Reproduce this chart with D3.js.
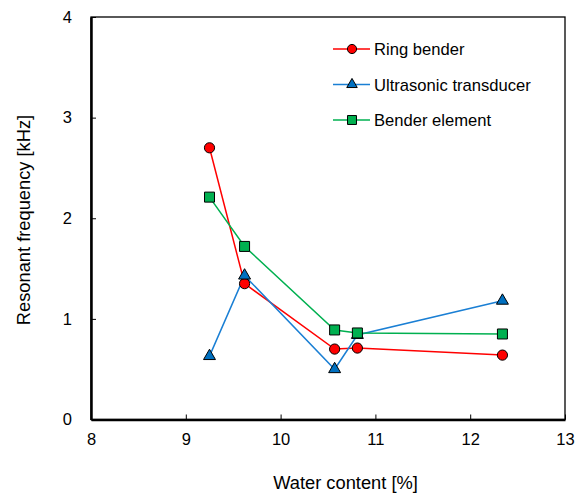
<!DOCTYPE html>
<html><head><meta charset="utf-8">
<script src="https://cdn.jsdelivr.net/npm/d3@7"></script>
<style>body{margin:0;background:#fff}svg{display:block;font-family:"Liberation Sans",Arial,sans-serif}</style>
</head><body>
<svg id="c" width="576" height="495"></svg>
<script>
const waterContent = [9.25, 9.62, 10.57, 10.81, 12.34];
const ringBender = [2.70, 1.35, 0.70, 0.71, 0.64];
const ultrasonic = [0.63, 1.43, 0.50, 0.84, 1.18];
const benderElement = [2.21, 1.72, 0.89, 0.86, 0.85];
const seriesNames = ["Ring bender", "Ultrasonic transducer", "Bender element"];
const xTicks = [8, 9, 10, 11, 12, 13];
const yTicks = [0, 1, 2, 3, 4];

const series = [
  {name: seriesNames[0], values: ringBender, line: "#ff0000", fill: "#ff0000", shape: d3.symbolCircle, size: 82, lsize: 66},
  {name: seriesNames[1], values: ultrasonic, line: "#1a7fd4", fill: "#0070c0", shape: d3.symbolTriangle, size: 62, lsize: 48},
  {name: seriesNames[2], values: benderElement, line: "#00b050", fill: "#00b050", shape: d3.symbolSquare, size: 100, lsize: 80}
];

const svg = d3.select("#c");
const L = 91, R = 565, T = 17, B = 419.5;
const x = d3.scaleLinear().domain([8, 13]).range([L, R]);
const y = d3.scaleLinear().domain([0, 4]).range([B, T]);

// frame
svg.append("rect").attr("x", L).attr("y", T).attr("width", R - L).attr("height", B - T)
  .attr("fill", "none").attr("stroke", "#000").attr("stroke-width", 1.3);

// axes
const xa = svg.append("g").attr("transform", `translate(0,${B})`)
  .call(d3.axisBottom(x).tickValues(xTicks).tickSizeInner(-5).tickSizeOuter(0).tickPadding(14).tickFormat(d3.format("d")));
const ya = svg.append("g").attr("transform", `translate(${L},0)`)
  .call(d3.axisLeft(y).tickValues(yTicks).tickSizeInner(-5).tickSizeOuter(0).tickPadding(19).tickFormat(d3.format("d")));
[xa, ya].forEach(g => {
  g.select(".domain").attr("stroke", "#000").attr("stroke-width", 2.5);
  g.selectAll(".tick line").attr("stroke", "#000").attr("stroke-width", 1);
  g.selectAll(".tick text").attr("font-size", 16.5).attr("fill", "#000")
    .attr("font-family", "'Liberation Sans', Arial, sans-serif");
});

// titles
svg.append("text").attr("x", 345.5).attr("y", 489).attr("text-anchor", "middle")
  .attr("font-size", 18.3).text("Water content [%]");
svg.append("text").attr("transform", "translate(30,220) rotate(-90)").attr("text-anchor", "middle")
  .attr("font-size", 18.3).text("Resonant frequency [kHz]");

// lines
const line = d3.line().x((d, i) => x(waterContent[i])).y(d => y(d));
series.forEach(s => {
  svg.append("path").attr("d", line(s.values)).attr("fill", "none")
    .attr("stroke", s.line).attr("stroke-width", 1.5);
});
// markers
series.forEach(s => {
  svg.append("g").selectAll("path").data(s.values).join("path")
    .attr("transform", (d, i) => `translate(${x(waterContent[i])},${y(d)})`)
    .attr("d", d3.symbol().type(s.shape).size(s.size))
    .attr("fill", s.fill).attr("stroke", "#000").attr("stroke-width", 1);
});

// legend
const lg = svg.append("g");
series.forEach((s, i) => {
  const yy = 49 + i * 35.5;
  lg.append("line").attr("x1", 333).attr("x2", 370).attr("y1", yy).attr("y2", yy)
    .attr("stroke", s.line).attr("stroke-width", 1.5);
  lg.append("path").attr("transform", `translate(352,${yy})`)
    .attr("d", d3.symbol().type(s.shape).size(s.lsize))
    .attr("fill", s.fill).attr("stroke", "#000").attr("stroke-width", 1);
  lg.append("text").attr("x", 374).attr("y", yy + 6).attr("font-size", 16.6).text(s.name);
});
</script>
</body></html>
